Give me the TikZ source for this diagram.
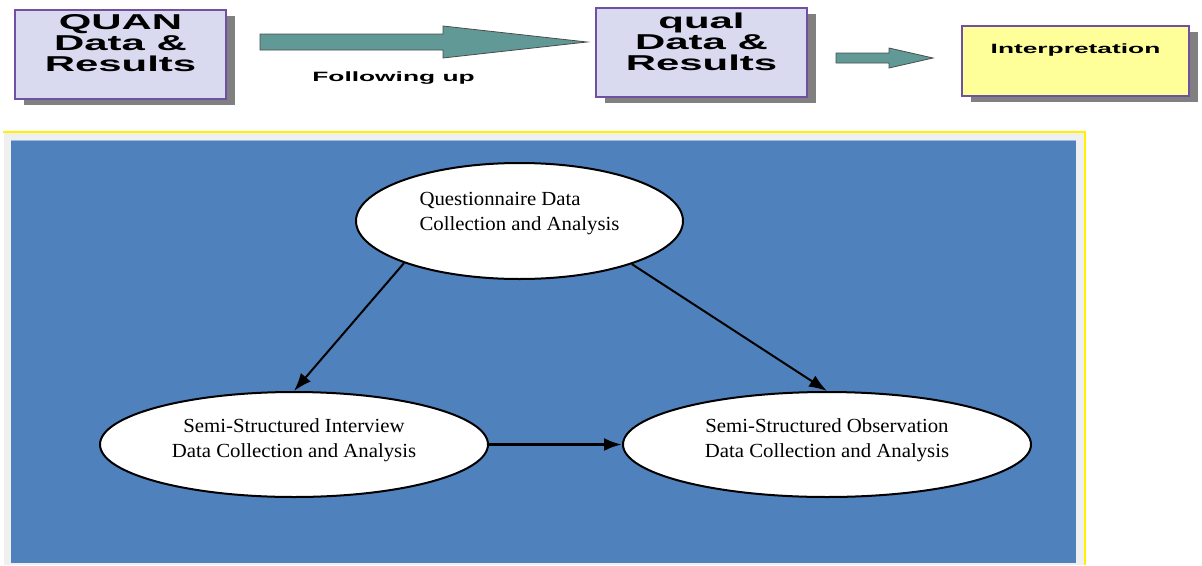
\documentclass[tikz,border=0pt]{standalone}
\usepackage{fontspec}
\usetikzlibrary{positioning,shapes.geometric,arrows.meta,shadows}
\newfontfamily\boxfont[FakeStretch=1.95]{Liberation Sans}
\newfontfamily\ovalfont[FakeStretch=1.04]{Liberation Serif}
\definecolor{lavender}{RGB}{217,217,240}
\definecolor{boxline}{RGB}{112,80,160}
\definecolor{arrowteal}{RGB}{96,153,150}
\definecolor{paleyellow}{RGB}{255,255,153}
\definecolor{panelblue}{RGB}{79,129,189}
\definecolor{panelgray}{RGB}{240,240,240}

\begin{document}
\begin{tikzpicture}[x=1pt,y=-1pt,
		databox/.style={draw=boxline,line width=1.5pt,fill=lavender,inner sep=0pt,
			general shadow={fill=black!50,shadow xshift=9pt,shadow yshift=-6pt}},
		boxtext/.style={inner sep=0pt,align=center,font=\boxfont\bfseries\fontsize{21.5}{21}\selectfont},
		smalltext/.style={inner sep=0pt,font=\boxfont\bfseries\fontsize{13.5}{15}\selectfont},
		oval/.style={ellipse,draw=black,line width=2pt,fill=white,inner sep=0pt},
		ovaltext/.style={inner sep=0pt,font=\ovalfont\fontsize{20}{25}\selectfont},
		blockarrow/.style={fill=arrowteal,draw=black!70,line width=0.8pt},
		link/.style={line width=2pt,-{Latex[length=18pt,width=13pt]}}]
		\useasboundingbox (0,0) rectangle (1202,565);
		
		% top row
		\node (quan) [databox, minimum width=211pt, minimum height=89pt, at= {(120.5,54.5)}] {};
		\node (quantext) [boxtext, below=5pt of quan.north] {QUAN\\Data \&\\Results};
		\node (qual) [databox, minimum width=211pt, minimum height=89pt, at= {(701.5,52.5)}] {};
		\node (qualtext) [boxtext, below=5pt of qual.north] {qual\\Data \&\\Results};
		\node (interp) [databox, fill=paleyellow, minimum width=227pt, minimum height=70pt, at= {(1075.5,61)}] {};
		\node (interptext) [smalltext, below=18pt of interp.north] {Interpretation};
		
		\draw[blockarrow] (260,34) -- (443,34) -- (443,26) -- (587,42) -- (443,58) -- (443,50) -- (260,50) -- cycle;
		\node (follow) [smalltext, at= {(393.5,78)}] {Following up};
		\draw[blockarrow] (836,53) -- (889,53) -- (889,48) -- (933,58) -- (889,68) -- (889,63) -- (836,63) -- cycle;
		
		% lower panel
		\fill[panelgray] (4,132) rectangle (1085,565);
		\draw[yellow, line width=1.2pt] (3,132) -- (1085,132) -- (1085,565);
		\fill[panelblue] (11,140) rectangle (1076,563);
		\draw[panelblue!55!white, line width=1pt] (11,140.5) -- (1076,140.5);
		
		\node (quest) [oval, minimum width=327pt, minimum height=116pt, at= {(519.5,221)}] {};
		\node (questtext) [ovaltext, align=left, at= {([yshift=7pt]quest.center)}] {Questionnaire Data\\Collection and Analysis};
		\node (interview) [oval, minimum width=388pt, minimum height=105pt, at= {(294,444.5)}] {};
		\node (interviewtext) [ovaltext, align=center, at= {([yshift=4pt]interview.center)}] {Semi-Structured Interview\\Data Collection and Analysis};
		\node (observe) [oval, minimum width=408pt, minimum height=105pt, at= {(827,444.5)}] {};
		\node (observetext) [ovaltext, align=center, at= {([yshift=4pt]observe.center)}] {Semi-Structured Observation\\Data Collection and Analysis};
		
		\draw[link] (quest.200) -- (interview.north);
		\draw[link] (quest.-21) -- (observe.north);
		\draw[link, line width=3pt] (interview.east) -- (observe.west);
		\end{tikzpicture}
\end{document}
